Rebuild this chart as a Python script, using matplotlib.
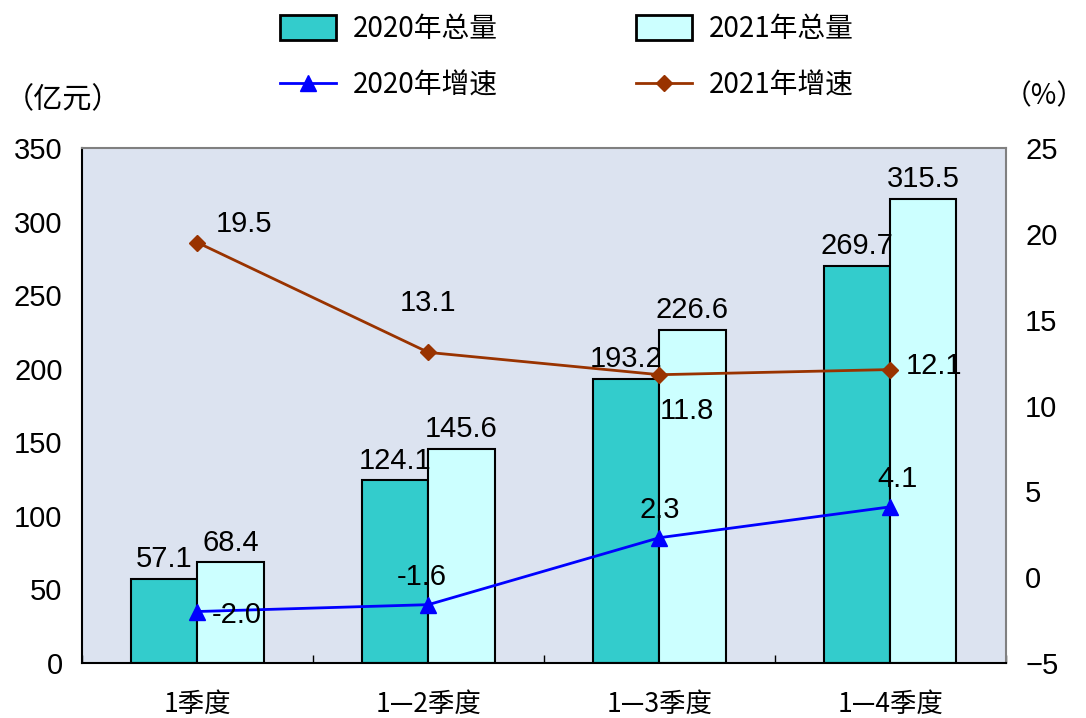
import numpy as np
import matplotlib
matplotlib.use('Agg')
import matplotlib.pyplot as plt
from matplotlib.lines import Line2D
from matplotlib.patches import Patch

# data
categories = ['1季度', '1—2季度', '1—3季度', '1—4季度']
total_2020 = [57.1, 124.1, 193.2, 269.7]
total_2021 = [68.4, 145.6, 226.6, 315.5]
growth_2020 = [-2.0, -1.6, 2.3, 4.1]
growth_2021 = [19.5, 13.1, 11.8, 12.1]

cjk = ['Noto Sans CJK SC', 'DejaVu Sans']
num = ['Liberation Sans', 'DejaVu Sans']

fig = plt.figure(figsize=(10.86, 7.18), dpi=100)
ax = fig.add_axes([0.0755, 0.0766, 0.8505, 0.717])
ax.set_facecolor('#DCE3F0')

x = np.arange(len(categories))
w = 0.287
ax.bar(x - w / 2, total_2020, w, color='#33CCCC', edgecolor='black', linewidth=1.5, zorder=2)
ax.bar(x + w / 2, total_2021, w, color='#CCFFFF', edgecolor='black', linewidth=1.5, zorder=2)
ax.set_xlim(-0.5, 3.5)
ax.set_ylim(0, 350)
ax.set_yticks(np.arange(0, 351, 50))
ax.set_xticks(np.arange(-0.5, 3.6, 1))
ax.set_xticklabels([])
ax.tick_params(axis='x', direction='in', length=6, width=1)
ax.tick_params(axis='y', length=0, pad=14)
for lab in ax.get_yticklabels():
    lab.set_fontfamily(num)
    lab.set_fontsize(21)
for i, c in enumerate(categories):
    ax.text(i, -19, c, ha='center', va='top', fontsize=19, family=cjk)

for s in ['left', 'bottom']:
    ax.spines[s].set_color('black')
    ax.spines[s].set_linewidth(1.5)
for s in ['top', 'right']:
    ax.spines[s].set_color('#808080')
    ax.spines[s].set_linewidth(1.5)

for i in range(len(categories)):
    ax.text(x[i] - w / 2, total_2020[i] + 4, '%.1f' % total_2020[i], ha='center', va='bottom',
            fontsize=21, family=num, zorder=5)
    ax.text(x[i] + w / 2, total_2021[i] + 4, '%.1f' % total_2021[i], ha='center', va='bottom',
            fontsize=21, family=num, zorder=5)

ax2 = ax.twinx()
ax2.set_ylim(-5, 25)
ax2.set_yticks(np.arange(-5, 26, 5))
ax2.tick_params(axis='y', length=0, pad=14)
for lab in ax2.get_yticklabels():
    lab.set_fontfamily(num)
    lab.set_fontsize(21)
for s in ax2.spines.values():
    s.set_visible(False)

ax2.plot(x, growth_2020, color='#0000FF', marker='^', markersize=11, linewidth=2, zorder=3)
ax2.plot(x, growth_2021, color='#993300', marker='D', markersize=8, linewidth=2, zorder=3)

# growth labels
off2020 = [(0.17, -0.2), (-0.03, 1.6), (0.0, 1.6), (0.03, 1.6)]
off2021 = [(0.2, 1.1), (0.0, 2.9), (0.12, -2.1), (0.19, 0.2)]
for i in range(len(categories)):
    dx, dy = off2020[i]
    ax2.text(x[i] + dx, growth_2020[i] + dy, '%.1f' % growth_2020[i], ha='center', va='center',
             fontsize=21, family=num, zorder=6)
    dx, dy = off2021[i]
    ax2.text(x[i] + dx, growth_2021[i] + dy, '%.1f' % growth_2021[i], ha='center', va='center',
             fontsize=21, family=num, zorder=6)

# unit labels
fig.text(0.004, 0.86, '（亿元）', fontsize=21, family=cjk, ha='left', va='center')
fig.text(0.999, 0.866, '（%）', fontsize=20, family=cjk, ha='right', va='center')

handles = [
    Patch(facecolor='#33CCCC', edgecolor='black', linewidth=2),
    Line2D([], [], color='#0000FF', marker='^', markersize=11, linewidth=2),
    Patch(facecolor='#CCFFFF', edgecolor='black', linewidth=2),
    Line2D([], [], color='#993300', marker='D', markersize=8, linewidth=2),
]
labels = ['2020年总量', '2020年增速', '2021年总量', '2021年增速']
fig.legend(handles, labels, loc='upper center', bbox_to_anchor=(0.522, 1.015), ncol=2,
           frameon=False, prop={'family': cjk, 'size': 20}, handlelength=2.0,
           handleheight=1.0, columnspacing=5.0, handletextpad=0.6, labelspacing=0.95)

fig.savefig('out.png', dpi=100)
